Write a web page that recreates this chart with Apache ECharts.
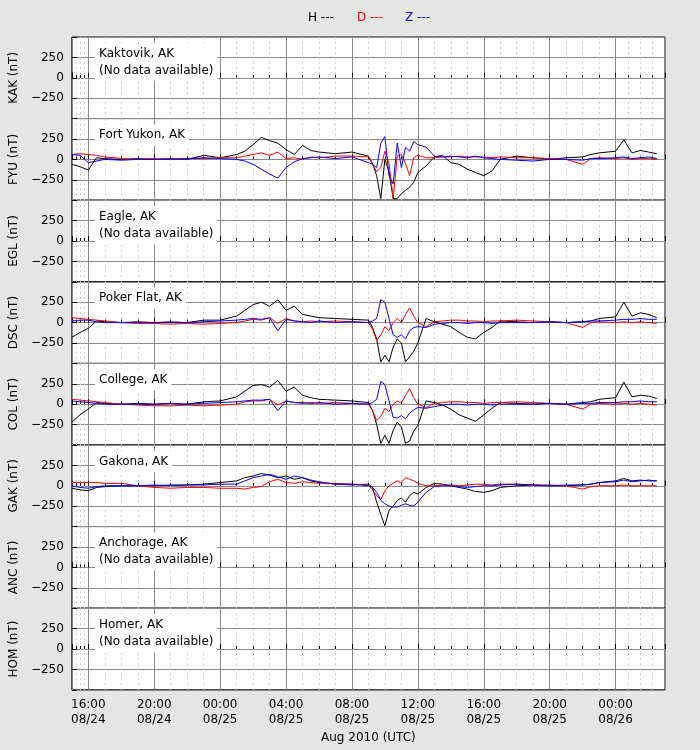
<!DOCTYPE html>
<html><head><meta charset="utf-8">
<script src="https://cdn.jsdelivr.net/npm/echarts@6/dist/echarts.min.js"></script>
<style>html,body{margin:0;background:#e5e5e5}#c{width:700px;height:750px}</style>
</head><body><div id="c"></div>
<script>
// hours after 2010-08-24 15:00 UTC
const hours=[0,0.5,1,1.5,2,3,4,5,6,7,8,9,10,10.5,11,11.5,12,12.5,13,13.5,14,14.5,15,16,17,18,18.25,18.5,18.75,19,19.25,19.5,19.75,20,20.25,20.5,20.75,21,21.5,22,22.5,23,23.5,24,24.5,25,25.5,26,27,28,29,30,31,31.5,32,33,33.5,34,34.5,35,35.5];
const stations=["KAK","FYU","EGL","DSC","COL","GAK","ANC","HOM"];
const stationNames=["Kaktovik, AK","Fort Yukon, AK","Eagle, AK","Poker Flat, AK","College, AK","Gakona, AK","Anchorage, AK","Homer, AK"];
const yTicks=[-250,0,250];
const FYU_H=[-60,-90,-130,20,10,0,10,0,10,0,50,20,60,100,180,270,230,200,120,60,170,110,90,70,90,40,-50,-200,-480,0,-150,-480,-480,-420,-380,-340,-280,-160,-80,30,50,-40,-60,-120,-160,-200,-140,0,40,20,0,20,30,60,80,100,240,80,110,90,70];
const FYU_D=[60,70,60,50,30,10,0,10,0,10,10,20,20,40,60,80,50,90,10,20,0,30,20,40,40,30,-60,-150,-100,100,-50,-480,40,60,-50,-200,20,50,20,20,30,30,40,30,30,30,20,30,20,20,10,0,-60,10,20,10,20,0,10,10,0];
const FYU_Z=[60,50,-40,-20,0,-10,0,0,0,10,20,10,0,-20,-60,-120,-180,-230,-100,-30,10,20,30,10,30,-40,-60,-100,200,280,-200,-300,200,-100,150,100,220,180,150,40,30,40,30,20,40,20,10,0,-10,-20,0,0,-10,10,10,20,30,10,20,30,10];
const DSC_H=[-180,-120,-70,20,10,0,10,0,0,0,30,30,80,150,220,250,200,280,150,200,100,80,60,50,40,30,-60,-200,-480,-400,-480,-300,-200,-250,-480,-420,-350,-250,50,10,-20,-50,-120,-180,-200,-120,-60,20,10,0,10,0,10,20,50,70,250,80,120,100,60];
const DSC_D=[60,50,40,30,20,0,-10,-10,-20,-10,-20,-10,0,20,40,30,60,-10,50,20,10,20,10,20,10,0,-80,-220,-150,-50,-100,0,50,0,100,180,80,0,-50,10,20,30,30,20,20,10,20,20,30,20,10,0,-60,0,10,0,10,0,10,0,-10];
const DSC_Z=[20,30,30,10,0,0,0,0,10,0,10,20,30,40,50,40,60,-100,40,20,10,0,20,0,10,0,20,50,280,250,50,-150,-180,-150,-200,-100,-60,-50,-60,-20,-10,0,0,-10,0,0,-10,0,0,0,10,0,10,20,20,30,40,40,50,40,40];
const COL_H=[-220,-130,-60,20,10,0,10,0,10,0,30,40,90,160,230,240,210,290,160,210,110,80,60,50,40,20,-80,-250,-480,-380,-480,-320,-220,-280,-480,-450,-330,-260,40,20,-10,-60,-130,-170,-210,-130,-50,20,10,0,10,0,20,30,60,80,270,90,110,100,70];
const COL_D=[60,50,40,30,20,0,-10,-20,-20,-10,-20,-10,0,30,40,40,60,-10,40,20,10,20,10,20,10,0,-80,-200,-150,-50,-90,0,40,10,110,190,80,0,-40,10,20,30,30,20,20,10,20,20,30,20,10,0,-60,0,10,0,10,0,10,0,-10];
const COL_Z=[40,30,20,10,0,0,0,0,10,0,10,20,30,40,50,50,60,-80,40,20,20,10,20,0,10,0,20,60,280,240,40,-160,-170,-140,-180,-110,-70,-40,-50,-30,-10,0,0,-10,0,0,-10,0,0,0,10,0,10,10,20,20,30,30,40,30,30];
const GAK_H=[-30,-50,-60,-20,-10,0,0,0,10,10,20,40,60,100,120,150,130,100,120,80,100,60,40,20,10,20,-20,-200,-350,-490,-300,-250,-180,-150,-200,-120,-80,-100,-20,30,20,0,-20,-40,-70,-80,-60,-20,0,10,0,0,10,20,40,60,90,60,70,60,60];
const GAK_D=[40,40,40,40,30,30,0,-20,-30,-20,-20,-30,-30,-40,-20,-10,50,80,40,30,50,40,30,30,20,10,-50,-120,-170,-60,0,30,60,40,100,80,60,30,0,0,10,10,0,10,20,20,10,20,20,10,10,0,-40,-10,0,0,10,0,0,0,0];
const GAK_Z=[0,-20,-30,-10,0,0,0,10,0,10,10,20,20,60,100,120,140,110,80,120,100,70,50,20,20,0,-20,-80,-180,-220,-250,-260,-260,-240,-220,-240,-250,-200,-80,-10,0,0,-10,-20,-10,0,0,10,20,10,0,10,10,20,40,50,70,50,60,70,60];
const dataByStation={FYU:[FYU_H,FYU_D,FYU_Z],DSC:[DSC_H,DSC_D,DSC_Z],COL:[COL_H,COL_D,COL_Z],GAK:[GAK_H,GAK_D,GAK_Z]};
const compColors=["#000000","#ff0000","#0000ff"];
const compNames=["H","D","Z"];

const T0=Date.UTC(2010,7,24,15), H=3600e3;
const ch=echarts.init(document.getElementById('c'));
const grids=[],xA=[],yA=[],series=[],graphic=[];
const top0=37,ph=81.6,left=70,right=35;
const font='DejaVu Sans';
stations.forEach((s,i)=>{
  const top=top0+i*ph, last=i===stations.length-1;
  grids.push({left,right,top,height:ph,show:true,backgroundColor:'#fff',borderColor:'#000',borderWidth:1,containLabel:false});
  xA.push({type:'time',gridIndex:i,min:T0,max:T0+36*H,interval:4*H,
    axisLine:{show:false},
    axisTick:{show:true,inside:true,length:5,lineStyle:{color:'#000'}},
    minorTick:{show:true,splitNumber:4,length:3,lineStyle:{color:'#000'}},
    splitLine:{show:true,lineStyle:{color:'#888',width:1}},
    minorSplitLine:{show:true,lineStyle:{color:'#ccc',type:[2,3]}},
    axisLabel:{show:last,color:'#000',fontFamily:font,fontSize:12,lineHeight:15,showMinLabel:false,showMaxLabel:false,
      formatter:v=>echarts.time.format(v,'{HH}:{mm}\n{MM}/{dd}',true)},
    name:last?'Aug 2010 (UTC)':'',nameLocation:'middle',nameGap:42,nameTextStyle:{color:'#000',fontFamily:font,fontSize:12}});
  yA.push({type:'value',gridIndex:i,min:-500,max:500,interval:250,
    axisLine:{show:false},axisTick:{show:true,inside:true,length:5,lineStyle:{color:'#000'}},
    splitLine:{show:true,lineStyle:{color:'#888',width:1}},
    axisLabel:{color:'#000',fontFamily:font,fontSize:12,formatter:v=>yTicks.includes(v)?(v<0?'\u2212'+(-v):String(v)):''},
    name:s+' (nT)',nameLocation:'middle',nameGap:42,nameRotate:90,nameTextStyle:{color:'#000',fontFamily:font,fontSize:12}});
  const d=dataByStation[s];
  if(d){
    d.forEach((arr,k)=>series.push({type:'line',name:compNames[k],xAxisIndex:i,yAxisIndex:i,showSymbol:false,symbol:'none',
      lineStyle:{color:compColors[k],width:1},data:hours.map((h,j)=>[T0+h*H,arr[j]]),animation:false,z:2+k}));
  }
  graphic.push({type:'text',left:95,top:top+6,z:100,style:{text:stationNames[i]+(d?'':'\n(No data available)'),
    font:'12px "DejaVu Sans"',fill:'#000',backgroundColor:'#fff',padding:[2,4],lineHeight:17}});
});
[['H ---','#000',308],['D ---','#f00',357],['Z ---','#00f',405]].forEach(([t,c,x])=>graphic.push({type:'text',left:x,top:12,style:{text:t,fill:c,font:'12px "DejaVu Sans"'}}));
ch.setOption({animation:false,backgroundColor:'#e5e5e5',grid:grids,xAxis:xA,yAxis:yA,series,graphic});
</script></body></html>
